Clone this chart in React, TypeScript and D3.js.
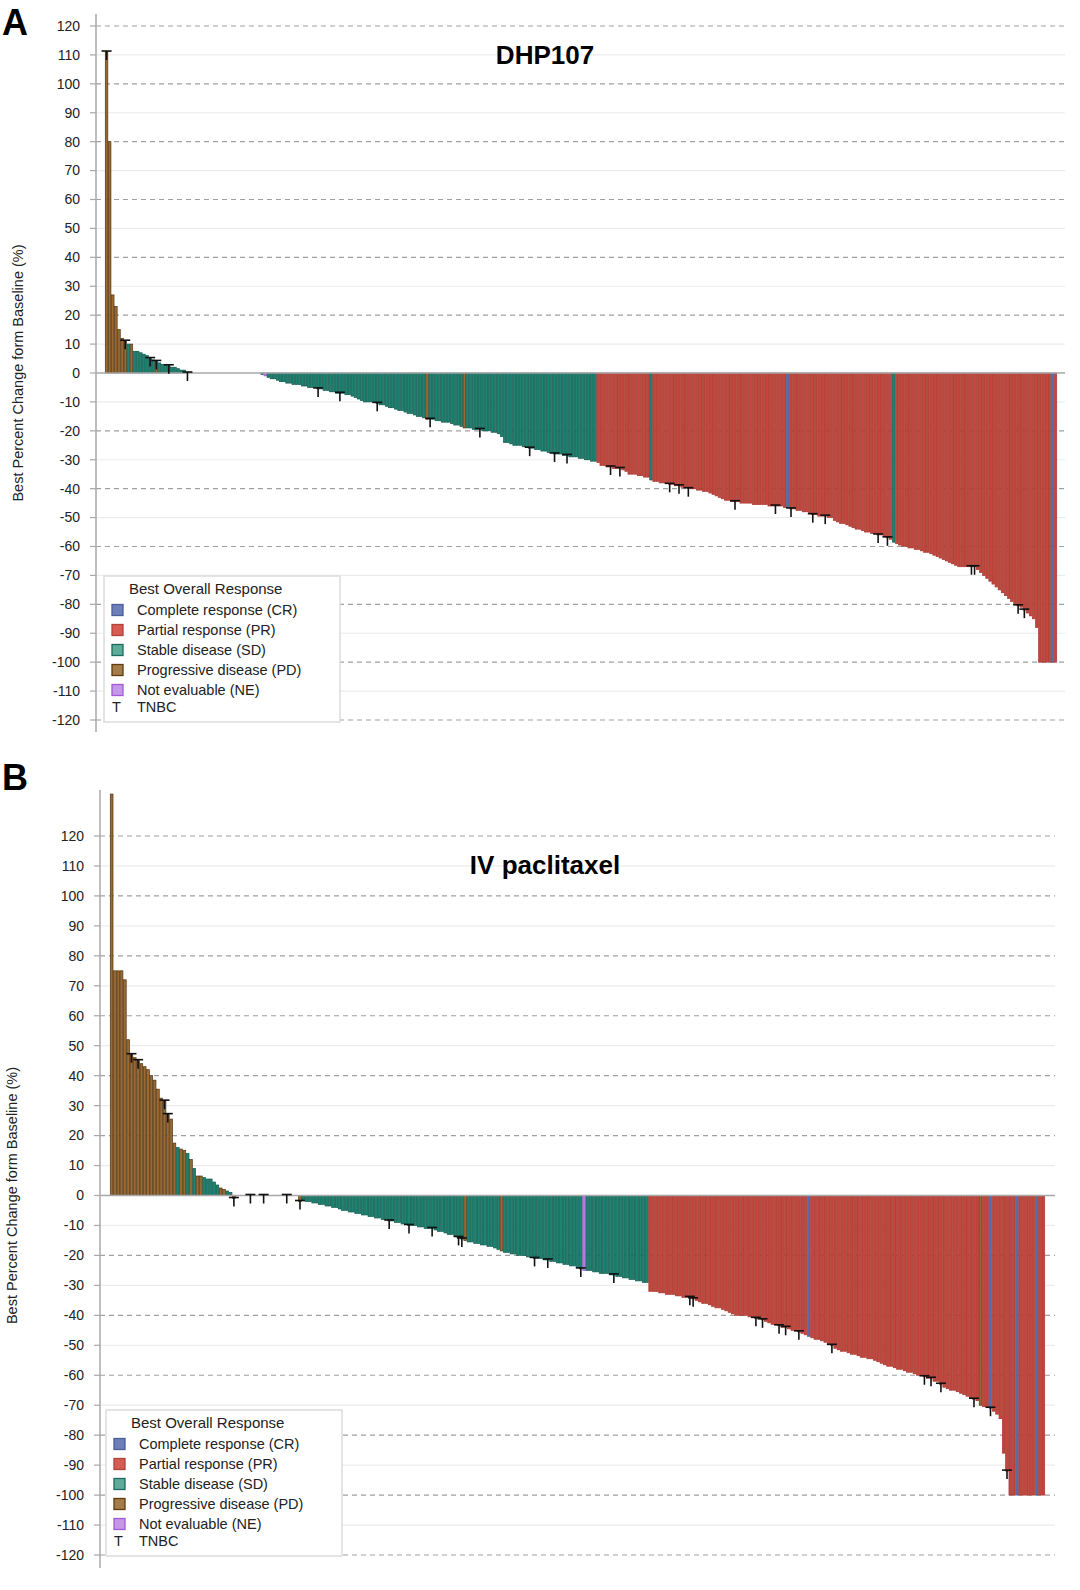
import React from "react";
import * as d3 from "d3";

// ---------- Panel A data (DHP107) ----------
const valuesA: number[] = [
  111, 80, 27, 23, 15, 12, 11, 10, 10, 7.5, 7.5, 7, 6.5, 6, 5, 4.5, 4, 3.5, 3, 3, 2.5, 2, 2, 1.5, 1, 1,
  0, 0, 0, 0, 0, 0, 0, 0, 0, 0, 0, 0, 0, 0, 0, 0, 0, 0, 0, 0, 0, 0, 0, 0,
  -0.5, -1,
  -1.5, -2, -2, -2.5, -3,
  -3, -3.5, -3.5, -4, -4, -4, -4.5, -4.5, -5, -5, -5, -5.5,
  -5.5, -6, -6, -6.5, -6.5, -7, -7, -7, -7.5, -7.5, -8, -8.5, -9,
  -9.5, -10, -10, -10, -10, -10.5, -11, -11, -11.5, -12, -12, -12.5, -13, -13,
  -13.5, -14, -14, -14.5, -15, -15, -15.5,
  -16,
  -16, -16, -16.5, -16.5, -17, -17, -17, -17.5, -18, -18, -18.5,
  -19,
  -19, -19, -19.5, -19.5, -19.5, -20, -20, -20, -20.5, -20.5, -21, -22,
  -24, -24, -24.5, -25, -25, -25, -25.5, -25.5, -26, -26, -26.5, -26.5, -27, -27, -27.5, -27.5, -28, -28, -28, -28.5, -28.5, -29, -29, -29, -29.5, -29.5, -30, -30, -30.5, -30.5,
  -31, -32, -32, -32.5, -32.5, -33, -33, -33, -33.5, -34,
  -35, -35, -35, -35.5, -35.5, -36, -36,
  -37,
  -37.5, -37.5, -38, -38, -38, -38.5, -38.5, -39, -39, -39.5, -39.5, -40, -40, -40,
  -40.5, -40.5, -41, -41, -41.5, -42, -42.5, -43, -43.5, -44, -44, -44.5, -44.5, -44.5,
  -45, -45, -45, -45, -45.5, -45.5, -45.5, -45.5, -45.5, -46, -46, -46, -46, -46, -46.5,
  -46.5,
  -47, -47, -47.5, -47.5, -48, -48, -48.5, -49, -49, -49.5, -49.5, -49.5, -50, -50,
  -51, -51.5, -52, -52, -52.5, -53, -53.5, -54, -54, -54.5, -55, -55, -55.5, -55.5, -56, -56, -56.5, -57, -57.5,
  -58.5,
  -59, -59.5, -60, -60, -60.5, -60.5, -61, -61, -61.5, -62, -62, -62.5, -63, -63.5, -64, -64.5, -65, -65.5, -66, -66.5, -67,
  -67, -67, -67, -67, -67, -68, -69, -70, -71, -72, -73, -74, -75, -76,
  -77, -78, -79, -80, -80.5, -81, -82, -83, -84, -85, -88,
  -100, -100, -100, -100, -100, -100,
];
const catRunsA: [string, number][] = [
  ["PD", 7], ["SD", 1], ["PD", 1], ["SD", 7], ["PD", 1], ["SD", 9], ["SD", 24], ["SD", 1], ["NE", 1],
  ["SD", 51], ["PD", 1], ["SD", 11], ["PD", 1], ["SD", 42],
  ["PR", 17], ["SD", 1], ["PR", 43], ["CR", 1], ["PR", 33], ["SD", 1], ["PR", 50], ["CR", 1], ["PR", 1],
];
const tnbcA: number[] = [
  0, 6, 14, 16, 20, 26, 68, 75, 87, 104, 120, 136, 144, 148,
  162, 165, 181, 184, 187, 202, 215, 220, 227, 231, 248, 251, 278, 279, 293, 295,
];

// ---------- Panel B data (IV paclitaxel) ----------
const valuesB: number[] = [
  134, 75, 75, 75, 72, 52, 47, 46, 45, 44, 43, 42, 40, 38.5, 35.5, 32.5, 31.5, 27, 25.5, 17.5,
  16, 15.5, 15, 14, 12, 9, 6.5, 6.5, 6, 5.5, 5.5, 4.5, 3.5, 2.5, 2, 1.5, 1,
  -1,
  0, 0, 0, 0, 0, 0, 0, 0, 0, 0, 0, 0, 0, 0, 0, 0, 0, 0, 0,
  -2,
  -1.5, -2, -2, -2.5, -2.5,
  -3, -3, -3.5, -3.5, -4, -4,
  -4.5, -5, -5, -5.5, -5.5, -6, -6, -6.5, -6.5,
  -7, -7, -7.5, -7.5, -8, -8, -8.5, -8.5, -9,
  -9, -9.5, -9.5, -10, -10, -10, -10.5, -10.5, -11, -11, -11, -11.5,
  -12, -12, -12.5, -13, -13, -13.5, -14, -14.5,
  -15,
  -15.5, -15.5, -16, -16, -16.5, -16.5, -17, -17, -17.5, -18,
  -18.5,
  -19, -19, -19.5, -19.5, -20, -20, -20, -20.5, -20.5, -21, -21, -21, -21.5, -21.5, -22, -22, -22.5, -22.5, -23, -23, -23.5, -23.5, -24, -24.5,
  -25,
  -25, -25, -25.5, -25.5, -26, -26, -26, -26.5, -26.5, -27, -27, -27.5, -27.5, -28, -28, -28.5, -28.5, -29, -29,
  -32, -32, -32, -32.5, -32.5, -33,
  -33, -33, -33.5, -33.5, -34,
  -34, -34, -34.5, -35, -35.5,
  -36, -36, -36.5, -37, -37.5,
  -37.5, -38, -38.5, -39, -39.5,
  -40, -40, -40, -40, -40.5, -40.5,
  -41, -41, -41.5, -42, -42.5, -43,
  -43, -43.5, -44, -44, -44.5, -45, -45,
  -45.5,
  -46, -46.5,
  -47,
  -47.5, -48, -48, -48.5, -49, -49.5, -50,
  -51, -51.5, -52, -52, -52.5, -53, -53, -53.5,
  -54, -54, -54.5, -54.5, -55, -55.5, -56,
  -56.5, -57, -57, -57.5, -58, -58,
  -58.5, -59, -59, -59.5, -60, -60,
  -60.5, -61, -61, -62, -62, -63, -64,
  -64.5, -65, -65, -65.5, -66, -66.5, -67,
  -67.5, -68, -68.5,
  -70,
  -70.5, -70.5,
  -71,
  -72, -73, -74.5, -86, -92, -100, -100,
  -100,
  -100, -100, -100, -100, -100,
  -100,
  -100, -100,
];
const catRunsB: [string, number][] = [
  ["PD", 20], ["SD", 1], ["PD", 2], ["SD", 1], ["PD", 1], ["SD", 1], ["PD", 2], ["SD", 5], ["PD", 2], ["SD", 2],
  ["PD", 1], ["SD", 19], ["PD", 1],
  ["SD", 49], ["PD", 1], ["SD", 10], ["PD", 1], ["SD", 24], ["NE", 1], ["SD", 19],
  ["PR", 48], ["CR", 1], ["PR", 51], ["PD", 1], ["PR", 2], ["CR", 1], ["PR", 7], ["CR", 1], ["PR", 5], ["CR", 1], ["PR", 2],
];
const tnbcB: number[] = [
  6, 8, 16, 17, 37, 42, 46, 53, 57,
  84, 90, 97, 105, 106, 128, 132, 142, 152,
  175, 176, 195, 197, 202, 204, 208, 218, 246, 248, 251, 261, 266, 271,
];

const yTicks: number[] = d3.range(-120, 121, 10);
const legendItems: [string, string][] = [
  ["CR", "Complete response (CR)"],
  ["PR", "Partial response (PR)"],
  ["SD", "Stable disease (SD)"],
  ["PD", "Progressive disease (PD)"],
  ["NE", "Not evaluable (NE)"],
];

const barFill: Record<string, string> = { CR: "#5a6ca8", PR: "#c0473d", SD: "#1f8372", PD: "#9a6a34", NE: "#b57be2" };
const barStroke: Record<string, string> = { CR: "#4a5c98", PR: "#a8362e", SD: "#0e5a4e", PD: "#4f3210", NE: "#9a55d0" };
const legFill: Record<string, string> = { CR: "#6c7fb8", PR: "#d65b52", SD: "#5fab9a", PD: "#a67b4a", NE: "#c497e8" };
const legStroke: Record<string, string> = { CR: "#4b5d9b", PR: "#b2413a", SD: "#1b6c5f", PD: "#5c3c12", NE: "#a45ad6" };

const expand = (runs: [string, number][]) => runs.flatMap(([c, n]) => Array(n).fill(c) as string[]);

const FONT = "'Liberation Sans', Arial, sans-serif";

interface PanelProps {
  values: number[]; cats: string[]; tnbc: number[];
  axisX: number; plotRight: number; barX0: number; barX1: number;
  yTop: number; yBot: number; axisTop: number; axisBot: number;
  title: string; titleY: number; letter: string; letterY: number; labelX: number;
  legX: number; legY: number;
}

function Panel(p: PanelProps) {
  const x = d3.scaleBand<number>().domain(d3.range(p.values.length)).range([p.barX0, p.barX1]).padding(0);
  const y = d3.scaleLinear().domain([-120, 120]).range([p.yBot, p.yTop]);
  const bw = x.bandwidth();
  const tn = new Set(p.tnbc);
  const y0 = y(0);
  return (
    <g fontFamily={FONT}>
      {yTicks.map((t) => (
        t === 0 ? null : (
          <line key={t} x1={p.axisX} x2={p.plotRight} y1={y(t)} y2={y(t)}
            stroke={t % 20 === 0 ? "#a0a0a0" : "#ececec"} strokeWidth={1.2}
            strokeDasharray={t % 20 === 0 ? "5,4" : undefined} />
        )
      ))}
      {p.values.map((v, i) => (
        <rect key={i} x={x(i)! + 0.3} width={Math.max(bw - 0.6, 0.5)} y={Math.min(y(v), y0)} height={Math.abs(y(v) - y0)}
          fill={barFill[p.cats[i]]} stroke={barStroke[p.cats[i]]} strokeWidth={0.7} />
      ))}
      <line x1={p.axisX} x2={p.plotRight} y1={y0} y2={y0} stroke="#a8a8a8" strokeWidth={1.5} />
      {p.values.map((v, i) => tn.has(i) ? (
        <g key={"t" + i} stroke="#111" strokeWidth={1.6}>
          <line x1={x(i)! + bw / 2 - 5} x2={x(i)! + bw / 2 + 5} y1={y(v) - 1} y2={y(v) - 1} />
          <line x1={x(i)! + bw / 2} x2={x(i)! + bw / 2} y1={y(v) - 1} y2={y(v) + 8} />
        </g>
      ) : null)}
      <line x1={p.axisX} x2={p.axisX} y1={p.axisTop} y2={p.axisBot} stroke="#a8a8a8" strokeWidth={1.5} />
      {yTicks.map((t) => (
        <g key={"k" + t}>
          <line x1={p.axisX - 6} x2={p.axisX} y1={y(t)} y2={y(t)} stroke="#a8a8a8" strokeWidth={1.2} />
          <text x={p.axisX - 16} y={y(t)} dy="0.35em" textAnchor="end" fontSize={14} fill="#222">{t}</text>
        </g>
      ))}
      <text transform={`translate(${p.labelX},${(p.yTop + p.yBot) / 2}) rotate(-90)`} textAnchor="middle" fontSize={14.5} fill="#222">
        Best Percent Change form Baseline (%)
      </text>
      <text x={545} y={p.titleY} textAnchor="middle" fontSize={26} fontWeight="bold" fill="#000">{p.title}</text>
      <text x={2} y={p.letterY} fontSize={36} fontWeight="bold" fill="#000">{p.letter}</text>
      <g transform={`translate(${p.legX},${p.legY})`}>
        <rect x={0} y={0} width={236} height={146} fill="#fff" stroke="#dcdcdc" strokeWidth={1.5} />
        <text x={25} y={18} fontSize={15} fill="#222">Best Overall Response</text>
        {legendItems.map(([c, label], i) => (
          <g key={c} transform={`translate(0,${34 + i * 20})`}>
            <rect x={8} y={-5.5} width={11} height={11} fill={legFill[c]} stroke={legStroke[c]} strokeWidth={1.3} />
            <text x={33} y={0} dy="0.35em" fontSize={14.5} fill="#222">{label}</text>
          </g>
        ))}
        <text x={8} y={136} fontSize={14.5} fill="#222">T</text>
        <text x={33} y={136} fontSize={14.5} fill="#222">TNBC</text>
      </g>
    </g>
  );
}

export default function App() {
  const catsA = expand(catRunsA);
  const catsB = expand(catRunsB);
  return (
    <svg width={1080} height={1590} style={{ position: "absolute", left: 0, top: 0, background: "#fff" }}>
      <rect width={1080} height={1590} fill="#fff" />
      <Panel values={valuesA} cats={catsA} tnbc={tnbcA}
        axisX={96} plotRight={1065} barX0={105} barX1={1057}
        yTop={26} yBot={720} axisTop={14} axisBot={732}
        title="DHP107" titleY={64} letter="A" letterY={35} labelX={23}
        legX={104} legY={576} />
      <Panel values={valuesB} cats={catsB} tnbc={tnbcB}
        axisX={100} plotRight={1055} barX0={110} barX1={1045}
        yTop={836} yBot={1555} axisTop={790} axisBot={1568}
        title="IV paclitaxel" titleY={874} letter="B" letterY={790} labelX={17}
        legX={106} legY={1410} />
    </svg>
  );
}
